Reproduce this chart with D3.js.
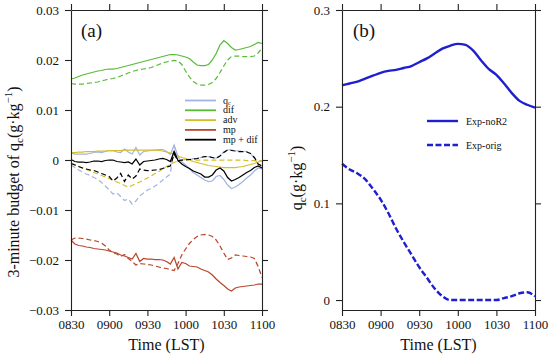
<!DOCTYPE html>
<html><head><meta charset="utf-8">
<script src="https://cdn.jsdelivr.net/npm/d3@7"></script>
<style>body{margin:0;background:#fff}svg{display:block}text{font-family:'Liberation Serif','Times New Roman',serif;fill:#111}</style>
</head><body>
<svg id="c" width="550" height="358"></svg>
<script>
// ---- data ----
const timeTickMinutes = [0, 30, 60, 90, 120, 150];
const timeTickLabels = ["0830", "0900", "0930", "1000", "1030", "1100"];
const minutesA = [0,3,6,9,12,15,18,21,24,27,30,33,36,39,42,45,48,51,54,57,60,63,66,69,72,75,78,81,84,87,90,93,96,99,102,105,108,111,114,117,120,123,126,129,132,135,138,141,144,147,150];
const qcNoR2 = [0.0014,0.0012,0.0012,0.0012,0.0012,0.0013,0.0015,0.0016,0.0015,0.0017,0.0019,0.0019,0.0016,0.0015,0.0022,0.0016,0.0012,0.0025,0.0010,0.0017,0.0018,0.0019,0.0020,0.0021,0.0021,0.0017,0.0011,0.0030,0.0007,-0.0004,-0.0010,-0.0017,-0.0025,-0.0030,-0.0035,-0.0040,-0.0043,-0.0042,-0.0033,-0.0031,-0.0039,-0.0050,-0.0057,-0.0054,-0.0049,-0.0043,-0.0036,-0.0030,-0.0022,-0.0016,-0.0018];
const qcOrig = [-0.0010,-0.0015,-0.0020,-0.0024,-0.0028,-0.0031,-0.0035,-0.0039,-0.0045,-0.0052,-0.0060,-0.0068,-0.0066,-0.0073,-0.0081,-0.0078,-0.0088,-0.0082,-0.0072,-0.0066,-0.0060,-0.0057,-0.0052,-0.0047,-0.0040,-0.0034,-0.0028,0.0028,-0.0003,0.0000,0.0001,0.0002,0.0003,0.0003,0.0005,0.0007,0.0007,0.0005,0.0004,0.0009,0.0016,0.0021,0.0020,0.0019,0.0018,0.0018,0.0017,0.0013,0.0004,-0.0009,-0.0014];
const difNoR2 = [0.0162,0.0164,0.0167,0.0170,0.0172,0.0174,0.0176,0.0178,0.0179,0.0181,0.0182,0.0182,0.0183,0.0185,0.0187,0.0189,0.0191,0.0193,0.0195,0.0197,0.0199,0.0201,0.0203,0.0205,0.0207,0.0209,0.0211,0.0211,0.0210,0.0208,0.0206,0.0203,0.0196,0.0190,0.0189,0.0189,0.0191,0.0200,0.0213,0.0230,0.0239,0.0233,0.0225,0.0220,0.0221,0.0223,0.0225,0.0227,0.0231,0.0235,0.0233];
const difOrig = [0.0153,0.0152,0.0152,0.0152,0.0153,0.0154,0.0155,0.0156,0.0158,0.0160,0.0162,0.0163,0.0165,0.0168,0.0171,0.0174,0.0177,0.0179,0.0181,0.0182,0.0183,0.0185,0.0188,0.0191,0.0194,0.0196,0.0198,0.0199,0.0198,0.0191,0.0178,0.0166,0.0157,0.0152,0.0150,0.0150,0.0151,0.0155,0.0163,0.0175,0.0188,0.0200,0.0207,0.0208,0.0208,0.0207,0.0207,0.0207,0.0208,0.0214,0.0224];
const advNoR2 = [0.0015,0.0015,0.0016,0.0016,0.0017,0.0017,0.0017,0.0018,0.0018,0.0018,0.0019,0.0019,0.0019,0.0019,0.0020,0.0020,0.0020,0.0020,0.0020,0.0020,0.0020,0.0020,0.0020,0.0019,0.0018,0.0016,0.0014,0.0011,0.0008,0.0005,0.0003,0.0000,-0.0003,-0.0005,-0.0007,-0.0009,-0.0011,-0.0012,-0.0013,-0.0014,-0.0015,-0.0015,-0.0015,-0.0015,-0.0014,-0.0013,-0.0011,-0.0009,-0.0007,-0.0004,-0.0002];
const advOrig = [-0.0006,-0.0009,-0.0013,-0.0016,-0.0019,-0.0022,-0.0025,-0.0028,-0.0031,-0.0034,-0.0037,-0.0041,-0.0044,-0.0047,-0.0051,-0.0054,-0.0051,-0.0047,-0.0044,-0.0040,-0.0036,-0.0032,-0.0027,-0.0023,-0.0018,-0.0013,-0.0009,-0.0005,-0.0002,0.0000,0.0001,0.0001,0.0001,0.0000,0.0000,0.0000,0.0000,0.0000,0.0000,0.0000,0.0000,0.0000,0.0000,0.0000,0.0000,0.0000,-0.0001,-0.0001,-0.0001,-0.0001,-0.0001];
const mpNoR2 = [-0.0160,-0.0168,-0.0171,-0.0172,-0.0174,-0.0175,-0.0177,-0.0178,-0.0179,-0.0180,-0.0182,-0.0184,-0.0186,-0.0190,-0.0192,-0.0195,-0.0198,-0.0187,-0.0203,-0.0197,-0.0198,-0.0198,-0.0199,-0.0199,-0.0200,-0.0203,-0.0208,-0.0195,-0.0218,-0.0205,-0.0207,-0.0212,-0.0213,-0.0214,-0.0218,-0.0221,-0.0224,-0.0230,-0.0238,-0.0245,-0.0251,-0.0258,-0.0262,-0.0256,-0.0254,-0.0253,-0.0252,-0.0251,-0.0250,-0.0248,-0.0248];
const mpOrig = [-0.0160,-0.0156,-0.0156,-0.0157,-0.0158,-0.0160,-0.0161,-0.0163,-0.0166,-0.0172,-0.0180,-0.0186,-0.0188,-0.0193,-0.0189,-0.0197,-0.0203,-0.0210,-0.0207,-0.0208,-0.0209,-0.0210,-0.0212,-0.0214,-0.0216,-0.0217,-0.0219,-0.0221,-0.0207,-0.0190,-0.0178,-0.0167,-0.0159,-0.0153,-0.0150,-0.0149,-0.0150,-0.0153,-0.0160,-0.0172,-0.0186,-0.0199,-0.0196,-0.0190,-0.0191,-0.0192,-0.0193,-0.0194,-0.0197,-0.0213,-0.0235];
const mpdifNoR2 = [0.0001,-0.0003,-0.0004,-0.0004,-0.0005,-0.0004,-0.0002,-0.0002,-0.0003,-0.0001,0.0000,0.0000,-0.0003,-0.0004,-0.0005,-0.0004,-0.0008,0.0002,-0.0010,-0.0003,-0.0002,-0.0001,0.0000,0.0002,0.0003,0.0001,-0.0003,0.0017,-0.0001,-0.0008,-0.0013,-0.0017,-0.0022,-0.0025,-0.0028,-0.0034,-0.0034,-0.0030,-0.0020,-0.0016,-0.0022,-0.0035,-0.0042,-0.0039,-0.0035,-0.0030,-0.0025,-0.0021,-0.0015,-0.0012,-0.0016];
const mpdifOrig = [-0.0007,-0.0010,-0.0013,-0.0016,-0.0018,-0.0020,-0.0021,-0.0024,-0.0027,-0.0030,-0.0033,-0.0042,-0.0036,-0.0027,-0.0043,-0.0030,-0.0038,-0.0032,-0.0018,-0.0020,-0.0021,-0.0021,-0.0020,-0.0019,-0.0017,-0.0014,-0.0012,0.0012,-0.0002,0.0000,0.0000,0.0001,0.0002,0.0003,0.0005,0.0007,0.0007,0.0005,0.0003,0.0008,0.0015,0.0020,0.0019,0.0018,0.0017,0.0017,0.0016,0.0013,0.0005,-0.0008,-0.0012];
const yTicksA = [-0.03, -0.02, -0.01, 0, 0.01, 0.02, 0.03];

const minutesB = [0,6,12,18,24,30,36,42,48,54,60,66,72,78,84,90,96,102,108,114,120,126,132,138,144,150];
const qcBNoR2 = [0.222,0.224,0.226,0.229,0.232,0.235,0.237,0.238,0.240,0.242,0.246,0.250,0.255,0.260,0.263,0.265,0.264,0.258,0.248,0.239,0.233,0.224,0.214,0.206,0.202,0.199];
const qcBOrig = [0.141,0.135,0.131,0.125,0.115,0.104,0.090,0.074,0.060,0.047,0.034,0.023,0.012,0.004,0.000,0.000,0.000,0.000,0.000,0.000,0.000,0.002,0.004,0.007,0.008,0.004];
const yTicksB = [0, 0.1, 0.2, 0.3];

// ---- drawing ----
const FONT = "'Liberation Serif','Times New Roman',serif";
const svg = d3.select("#c");
const C = {qc:"#a3b3e3", dif:"#58bb38", adv:"#d5bd2c", mp:"#b8472c", mpdif:"#000000", blue:"#1f1fcf"};

function frame(g, x, y, yTicks, fmt) {
  const [x0, x1] = x.range(), [y0, y1] = y.range();
  const axes = [
    g.append("g").attr("transform", `translate(0,${y0})`)
      .call(d3.axisBottom(x).tickValues(timeTickMinutes).tickFormat((d,i)=>timeTickLabels[i]).tickSize(6).tickPadding(4).tickSizeOuter(0)),
    g.append("g").attr("transform", `translate(0,${y1})`)
      .call(d3.axisTop(x).tickValues(timeTickMinutes).tickFormat("").tickSize(6).tickSizeOuter(0)),
    g.append("g").attr("transform", `translate(${x0},0)`)
      .call(d3.axisLeft(y).tickValues(yTicks).tickFormat(fmt).tickSize(6).tickPadding(6).tickSizeOuter(0)),
    g.append("g").attr("transform", `translate(${x1},0)`)
      .call(d3.axisRight(y).tickValues(yTicks).tickFormat("").tickSize(6).tickSizeOuter(0))
  ];
  axes.forEach(a => a.attr("font-family", FONT).attr("font-size", 13));
  g.selectAll(".domain, .tick line").attr("stroke", "#222").attr("stroke-width", 1.1);
  g.selectAll(".tick text").attr("font-size", 13).attr("font-family", FONT).attr("fill", "#111");
}

// Panel (a)
const xA = d3.scaleLinear([0, 150], [71, 262]);
const yA = d3.scaleLinear([-0.03, 0.03], [310, 10]);
const gA = svg.append("g").attr("font-family", FONT);
const fmtA = d => d === 0 ? "0" : d3.format(".2f")(d);
const lineA = vals => d3.line().x((d,i)=>xA(minutesA[i])).y(d=>yA(d))(vals);
const seriesA = [
  {v:qcNoR2, c:C.qc, dash:null}, {v:qcOrig, c:C.qc, dash:"5,3"},
  {v:difNoR2, c:C.dif, dash:null}, {v:difOrig, c:C.dif, dash:"5,3"},
  {v:advNoR2, c:C.adv, dash:null}, {v:advOrig, c:C.adv, dash:"5,3"},
  {v:mpNoR2, c:C.mp, dash:null}, {v:mpOrig, c:C.mp, dash:"5,3"},
  {v:mpdifNoR2, c:C.mpdif, dash:null}, {v:mpdifOrig, c:C.mpdif, dash:"5,3"}
];
gA.selectAll("path.s").data(seriesA).join("path").attr("class","s")
  .attr("d", s => lineA(s.v)).attr("fill","none").attr("stroke", s=>s.c)
  .attr("stroke-width", 1.25).attr("stroke-dasharray", s=>s.dash);
frame(gA, xA, yA, yTicksA, fmtA);

// legend (a)
const legA = [{c:C.qc, t:"q", sub:"c"}, {c:C.dif, t:"dif"}, {c:C.adv, t:"adv"}, {c:C.mp, t:"mp"}, {c:C.mpdif, t:"mp + dif"}];
legA.forEach((e, i) => {
  const y = 100.5 + i * 9.8;
  gA.append("line").attr("x1", 185).attr("x2", 216).attr("y1", y).attr("y2", y).attr("stroke", e.c).attr("stroke-width", 1.8);
  const t = gA.append("text").attr("x", 223).attr("y", y + 3).attr("font-size", 10).attr("font-family", FONT).text(e.t);
  if (e.sub) t.append("tspan").attr("font-size", 6).attr("dy", 1).text(e.sub);
});
gA.append("text").attr("x", 81).attr("y", 37).attr("font-size", 19).attr("font-family", FONT).text("(a)");

// y-label (a)
const labA = gA.append("text").attr("transform", "translate(19,182) rotate(-90)").attr("text-anchor", "middle").attr("font-size", 16).attr("font-family", FONT);
labA.append("tspan").text("3-minute budget of q");
labA.append("tspan").attr("font-size", 11).attr("dy", 4).text("c");
labA.append("tspan").attr("dy", -4).text("(g·kg");
labA.append("tspan").attr("font-size", 11).attr("dy", -7).text("−1");
labA.append("tspan").attr("dy", 7).text(")");
gA.append("text").attr("x", 166.5).attr("y", 350).attr("text-anchor", "middle").attr("font-size", 16).attr("font-family", FONT).text("Time (LST)");

// Panel (b)
const xB = d3.scaleLinear([0, 150], [342, 535]);
const yB = d3.scaleLinear([-0.0103, 0.3], [310, 10]);
const gB = svg.append("g").attr("font-family", FONT);
const lineB = vals => d3.line().x((d,i)=>xB(minutesB[i])).y(d=>yB(d)).curve(d3.curveMonotoneX)(vals);
gB.append("path").attr("d", lineB(qcBNoR2)).attr("fill","none").attr("stroke", C.blue).attr("stroke-width", 2.4);
gB.append("path").attr("d", lineB(qcBOrig)).attr("fill","none").attr("stroke", C.blue).attr("stroke-width", 2.4).attr("stroke-dasharray", "6,2.5");
frame(gB, xB, yB, yTicksB, d => d === 0 ? "0" : d3.format(".1f")(d));

[{t:"Exp-noR2", y:121, dash:null}, {t:"Exp-orig", y:145, dash:"6,2.5"}].forEach(e => {
  gB.append("line").attr("x1", 427).attr("x2", 458).attr("y1", e.y).attr("y2", e.y).attr("stroke", C.blue).attr("stroke-width", 2.4).attr("stroke-dasharray", e.dash);
  gB.append("text").attr("x", 466).attr("y", e.y + 3.5).attr("font-size", 10).attr("font-family", FONT).text(e.t);
});
gB.append("text").attr("x", 353).attr("y", 37).attr("font-size", 19).attr("font-family", FONT).text("(b)");
const labB = gB.append("text").attr("transform", "translate(302,178) rotate(-90)").attr("text-anchor", "middle").attr("font-size", 16).attr("font-family", FONT);
labB.append("tspan").text("q");
labB.append("tspan").attr("font-size", 11).attr("dy", 4).text("c");
labB.append("tspan").attr("dy", -4).text("(g·kg");
labB.append("tspan").attr("font-size", 11).attr("dy", -7).text("−1");
labB.append("tspan").attr("dy", 7).text(")");
gB.append("text").attr("x", 438.5).attr("y", 350).attr("text-anchor", "middle").attr("font-size", 16).attr("font-family", FONT).text("Time (LST)");
</script>
</body></html>
